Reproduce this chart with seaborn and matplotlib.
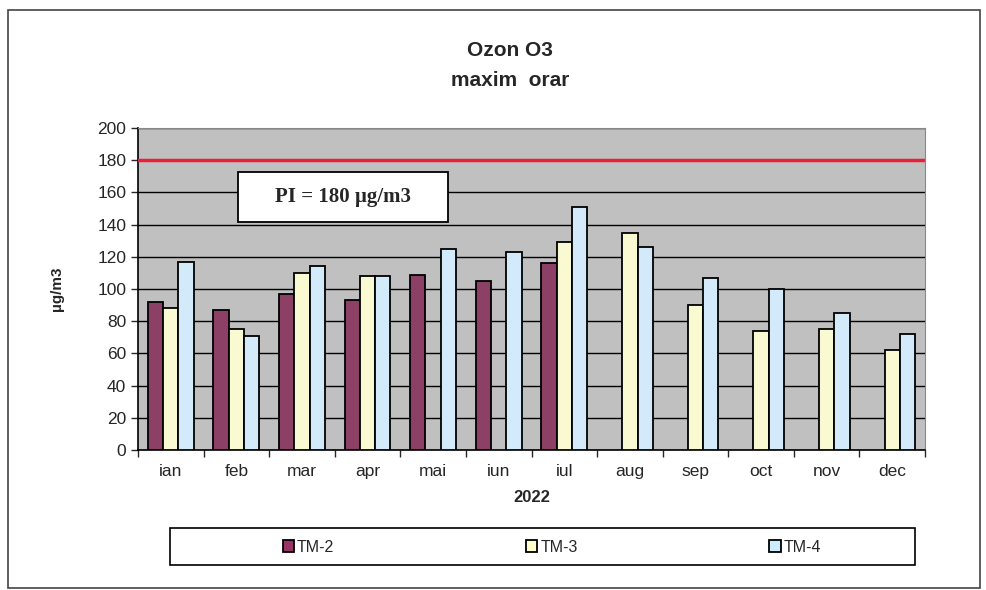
import numpy as np
import pandas as pd
import matplotlib
matplotlib.use('Agg')
import matplotlib.pyplot as plt
from matplotlib.patches import Rectangle, Patch
import seaborn as sns

months = ['ian', 'feb', 'mar', 'apr', 'mai', 'iun', 'iul', 'aug', 'sep', 'oct', 'nov', 'dec']
tm2 = [92, 87, 97, 93, 109, 105, 116, np.nan, np.nan, np.nan, np.nan, np.nan]
tm3 = [88, 75, 110, 108, np.nan, np.nan, 129, 135, 90, 74, 75, 62]
tm4 = [117, 71, 114, 108, 125, 123, 151, 126, 107, 100, 85, 72]
stations = ['TM-2', 'TM-3', 'TM-4']
colors = ['#993366', '#FFFFCC', '#CCECFF']
limit = 180

df = pd.DataFrame({'month': months * 3,
                   'station': np.repeat(stations, len(months)),
                   'value': tm2 + tm3 + tm4})

sns.set_style('white')
plt.rcParams['font.family'] = ['Liberation Sans', 'DejaVu Sans']

fig = plt.figure(figsize=(9.86, 5.9), dpi=100)
ax = fig.add_axes([138 / 986, 1 - 450 / 590, 787 / 986, 322 / 590])
ax.set_facecolor('#C0C0C0')

sns.barplot(data=df, x='month', y='value', hue='station', palette=colors,
            edgecolor='black', linewidth=1.3, width=0.7, ax=ax, legend=False,
            zorder=3)

ax.set_ylim(0, 200)
ax.set_xlim(-0.5, len(months) - 0.5)
ax.set_yticks(np.arange(0, 201, 20))
ax.yaxis.grid(True, color='black', linewidth=1.0, zorder=0)
ax.set_axisbelow(True)
ax.axhline(limit, color='#E8203A', linewidth=2.5, zorder=4)

ax.tick_params(axis='y', labelsize=12.5, length=5, direction='out', left=True, width=1)
ax.tick_params(axis='x', which='major', labelsize=12.5, length=0, pad=10)
ax.set_xticks(np.arange(-0.5, len(months), 1), minor=True)
ax.tick_params(axis='x', which='minor', length=5, bottom=True, width=1)
ax.set_xlabel('2022', fontsize=12, fontweight='bold', labelpad=8)
ax.set_ylabel('µg/m3', fontsize=11, fontweight='bold', labelpad=24)
for s in ['left', 'bottom']:
    ax.spines[s].set_color('black')
    ax.spines[s].set_linewidth(1.2)
for s in ['top', 'right']:
    ax.spines[s].set_color('#888888')
    ax.spines[s].set_linewidth(0.8)

# PI box
ax.add_patch(Rectangle((100 / 787, 228 / 322), 210 / 787, 50 / 322,
                       transform=ax.transAxes, facecolor='white',
                       edgecolor='black', linewidth=1.3, zorder=5))
ax.text(205 / 787, 253 / 322, 'PI = 180 µg/m3', transform=ax.transAxes,
        ha='center', va='center', fontsize=15, fontweight='bold',
        family=['Liberation Serif', 'DejaVu Serif'], zorder=6)

fig.text(510 / 986, 1 - 51 / 590, 'Ozon O3', ha='center', va='center',
         fontsize=15, fontweight='bold')
fig.text(510 / 986, 1 - 80 / 590, 'maxim  orar', ha='center', va='center',
         fontsize=15, fontweight='bold')

# outer border and legend box
fig.patches.append(Rectangle((8 / 986, 2 / 590), 972 / 986, 578 / 590,
                             transform=fig.transFigure, fill=False,
                             edgecolor='#444444', linewidth=1.2))
fig.patches.append(Rectangle((170 / 986, 1 - 565 / 590), 745 / 986, 37 / 590,
                             transform=fig.transFigure, fill=False,
                             edgecolor='black', linewidth=1.2))
handles = [Patch(facecolor=c, edgecolor='black', linewidth=1.3, label=s)
           for c, s in zip(colors, stations)]
fig.legend(handles=handles, ncol=3, loc='center',
           bbox_to_anchor=(552 / 986, 1 - 547 / 590), frameon=False,
           fontsize=11.5, handlelength=0.7, handleheight=0.7,
           handletextpad=0.2, columnspacing=12)

fig.savefig('out.png', dpi=100)
